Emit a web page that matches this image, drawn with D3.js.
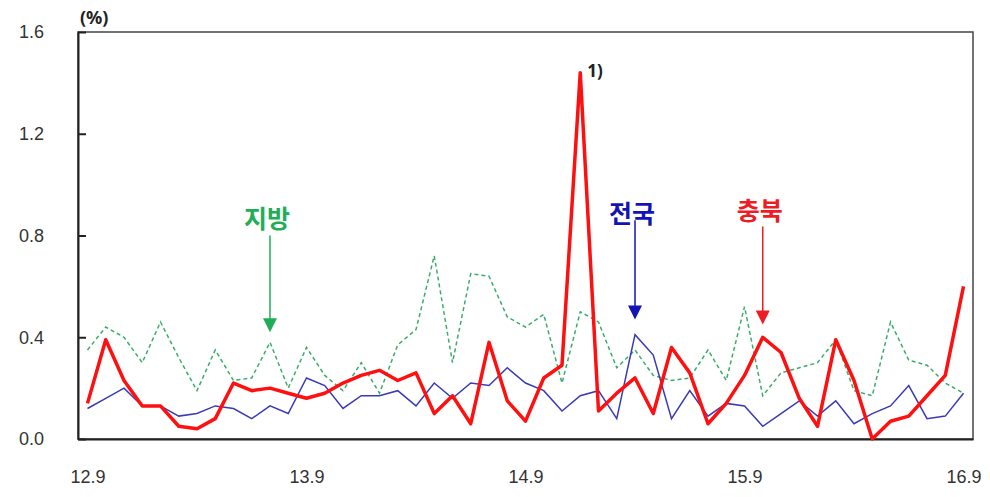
<!DOCTYPE html>
<html>
<head>
<meta charset="utf-8">
<script src="https://cdnjs.cloudflare.com/ajax/libs/d3/7.8.5/d3.min.js"></script>
<style>
  body { margin: 0; background: #fff; }
  svg { font-family: "Noto Sans", "Noto Sans CJK KR", sans-serif; }
</style>
</head>
<body>
<div id="vis"></div>
<script>
(function run(){

  // months 12.9 ~ 16.9
  var months = [];
  for (var y = 12; y <= 16; y++) {
    for (var m = 1; m <= 12; m++) {
      if ((y == 12 && m < 9) || (y == 16 && m > 9)) continue;
      months.push(y + "." + m);
    }
  }

  var tickLabels = ["12.9", "13.9", "14.9", "15.9", "16.9"];
  var yTicks = [0, 0.4, 0.8, 1.2, 1.6];

  // 충북
  var chungbuk = [0.14, 0.39, 0.23, 0.13, 0.13, 0.05, 0.04, 0.08, 0.22, 0.19,
    0.20, 0.18, 0.16, 0.18, 0.22, 0.25, 0.27, 0.23, 0.26, 0.10,
    0.17, 0.06, 0.38, 0.15, 0.07, 0.24, 0.29, 1.44, 0.11, 0.18,
    0.24, 0.10, 0.36, 0.26, 0.06, 0.14, 0.25, 0.40, 0.34, 0.16,
    0.05, 0.39, 0.23, 0.00, 0.07, 0.09, 0.17, 0.25, 0.60];

  // 전국
  var national = [0.12, 0.16, 0.20, 0.13, 0.13, 0.09, 0.10, 0.13, 0.12, 0.08,
    0.13, 0.10, 0.24, 0.21, 0.12, 0.17, 0.17, 0.19, 0.13, 0.22,
    0.16, 0.22, 0.21, 0.28, 0.22, 0.19, 0.11, 0.17, 0.19, 0.08,
    0.41, 0.33, 0.08, 0.19, 0.09, 0.14, 0.13, 0.05, 0.10, 0.15,
    0.09, 0.15, 0.06, 0.10, 0.13, 0.21, 0.08, 0.09, 0.18];

  // 지방
  var regional = [0.35, 0.44, 0.40, 0.30, 0.46, 0.32, 0.19, 0.35, 0.23, 0.24,
    0.38, 0.20, 0.36, 0.25, 0.19, 0.30, 0.18, 0.37, 0.43, 0.72,
    0.30, 0.65, 0.64, 0.48, 0.44, 0.49, 0.22, 0.50, 0.46, 0.28,
    0.35, 0.25, 0.23, 0.24, 0.35, 0.23, 0.52, 0.17, 0.26, 0.28,
    0.30, 0.39, 0.19, 0.17, 0.46, 0.31, 0.29, 0.22, 0.18];

  var margin = { top: 32, right: 17, bottom: 58, left: 78 };
  var width = 990 - margin.left - margin.right;
  var height = 497 - margin.top - margin.bottom;

  var svg = d3.select("#vis")
    .append("svg")
      .attr("width", 990)
      .attr("height", 497);

  var g = svg.append("g")
    .attr("transform", "translate(" + margin.left + "," + margin.top + ")");

  var x = d3.scalePoint()
    .domain(months)
    .range([0, width])
    .padding(0.52);

  var yScale = d3.scaleLinear()
    .domain([0, 1.6])
    .range([height, 0]);

  // frame
  g.append("rect")
    .attr("width", width)
    .attr("height", height)
    .attr("fill", "none")
    .attr("stroke", "#444")
    .attr("stroke-width", 1.5);

  var yAxis = d3.axisLeft(yScale)
    .tickValues(yTicks)
    .tickFormat(d3.format(".1f"))
    .tickSizeInner(-8)
    .tickSizeOuter(0)
    .tickPadding(34);

  var yG = g.append("g").attr("class", "y axis").call(yAxis);
  yG.select(".domain").attr("stroke", "#222").attr("stroke-width", 2);
  yG.selectAll(".tick line").attr("stroke", "#222").attr("stroke-width", 2);
  yG.selectAll("text")
    .style("font-size", "18px")
    .attr("fill", "#333");

  var xAxis = d3.axisBottom(x)
    .tickValues(tickLabels)
    .tickSize(0)
    .tickPadding(31);

  var xG = g.append("g")
    .attr("transform", "translate(0," + height + ")")
    .call(xAxis);
  xG.select(".domain").attr("stroke", "#222").attr("stroke-width", 2);
  xG.selectAll("text")
    .style("font-size", "18px")
    .attr("fill", "#333");

  g.append("text")
    .attr("x", 2)
    .attr("y", -8)
    .style("font-size", "18px")
    .style("font-weight", "bold")
    .attr("fill", "#222")
    .text("(%)");

  var line = d3.line()
    .x(function(d, i) { return x(months[i]); })
    .y(function(d) { return yScale(d); });

  g.append("path")
    .datum(regional)
    .attr("fill", "none")
    .attr("stroke", "#3aad6a")
    .attr("stroke-width", 1.5)
    .attr("stroke-dasharray", "4,3")
    .attr("d", line);

  g.append("path")
    .datum(national)
    .attr("fill", "none")
    .attr("stroke", "#3a3ab8")
    .attr("stroke-width", 1.5)
    .attr("d", line);

  g.append("path")
    .datum(chungbuk)
    .attr("fill", "none")
    .attr("stroke", "#ff1010")
    .attr("stroke-width", 3.5)
    .attr("stroke-linejoin", "round")
    .attr("d", line);

  // annotations
  var notes = [
    { label: "지방", color: "#1fae57", idx: 10, ty: 0.83, y0: 0.80, y1: 0.42 },
    { label: "전국", color: "#1414b4", idx: 30, ty: 0.85, y0: 0.86, y1: 0.47 },
    { label: "충북", color: "#ee1c25", idx: 37, ty: 0.86, y0: 0.835, y1: 0.45 }
  ];

  notes.forEach(function(n) {
    var cx = x(months[n.idx]);
    g.append("text")
      .attr("x", cx - 3)
      .attr("y", yScale(n.ty))
      .attr("text-anchor", "middle")
      .style("font-family", "'Noto Sans CJK KR', sans-serif")
      .style("font-size", "25px")
      .style("font-weight", "bold")
      .attr("fill", n.color)
      .text(n.label);
    g.append("line")
      .attr("x1", cx).attr("x2", cx)
      .attr("y1", yScale(n.y0))
      .attr("y2", yScale(n.y1) - 12)
      .attr("stroke", n.color)
      .attr("stroke-width", 1.5);
    var ty = yScale(n.y1);
    g.append("path")
      .attr("d", "M" + (cx - 7) + "," + (ty - 14) + "L" + (cx + 7) + "," + (ty - 14) + "L" + cx + "," + ty + "Z")
      .attr("fill", n.color);
  });

  g.append("text")
    .attr("x", x(months[27]) + 7)
    .attr("y", yScale(1.44) + 4)
    .style("font-size", "17px")
    .style("font-weight", "bold")
    .attr("fill", "#222")
    .text("1)");

})();
</script>
</body>
</html>
